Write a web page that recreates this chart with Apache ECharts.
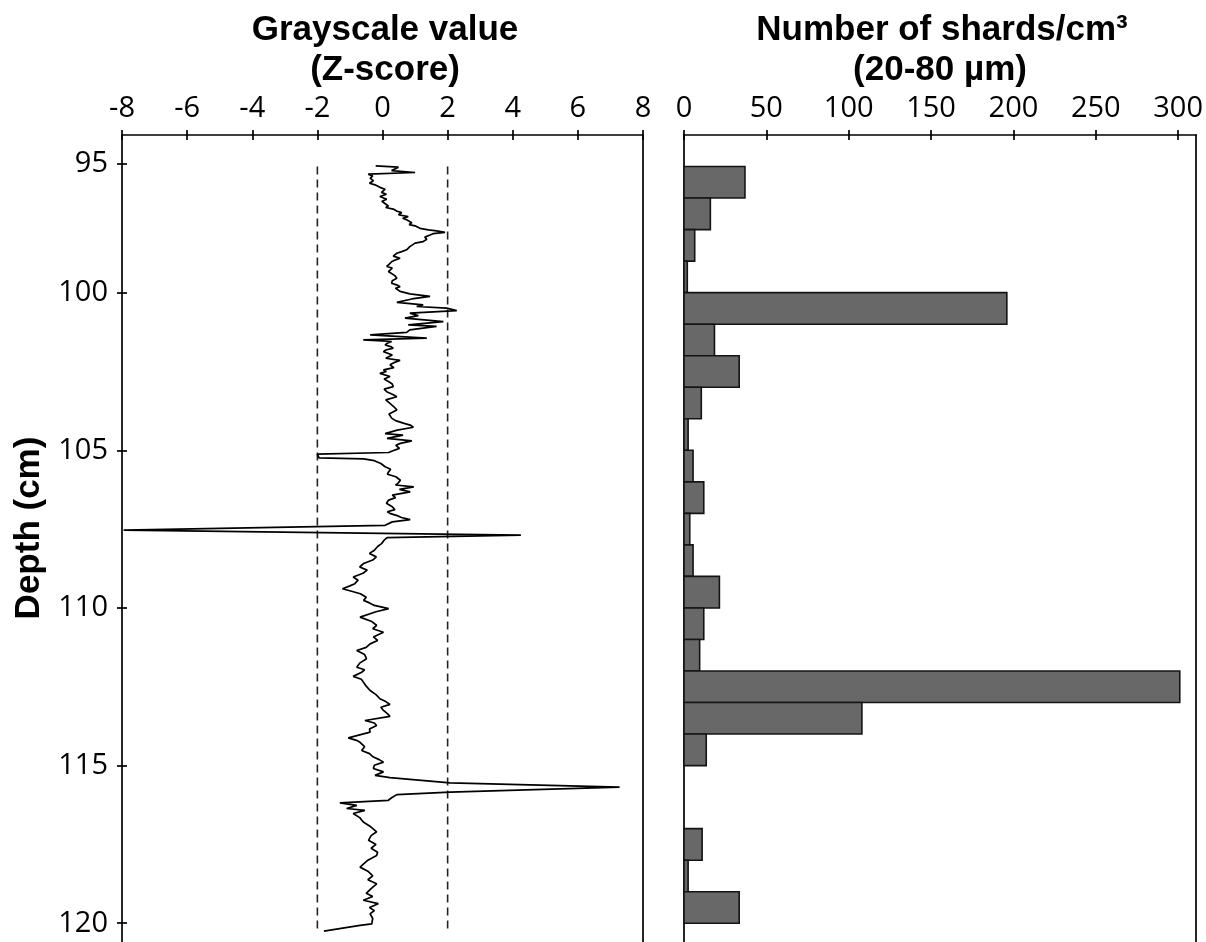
<!DOCTYPE html>
<html><head><meta charset="utf-8">
<script src="https://cdn.jsdelivr.net/npm/echarts@6/dist/echarts.min.js"></script>
<style>html,body{margin:0;padding:0;background:#fff;overflow:hidden}#c{width:1206px;height:980px}</style>
</head><body><div id="c"></div><script>
// Grayscale Z-score trace: [depth (cm), z-score]
const grayscaleTrace = [
[95.98,-0.21],[96.02,0.49],[96.13,0.28],[96.19,1.00],[96.24,-0.44],[96.30,-0.30],[96.37,-0.38],[96.45,-0.28],[96.53,-0.40],[96.58,-0.23],[96.66,-0.08],[96.72,0.08],[96.82,-0.03],[96.88,0.12],[96.95,-0.08],[97.04,0.13],[97.10,-0.02],[97.16,0.03],[97.25,0.18],[97.30,0.10],[97.35,0.33],[97.42,0.45],[97.46,0.59],[97.53,0.49],[97.59,0.79],[97.64,0.62],[97.69,0.74],[97.78,0.90],[97.84,0.82],[97.88,1.00],[97.96,1.15],[98.01,1.41],[98.04,1.66],[98.09,1.92],[98.13,1.55],[98.17,1.46],[98.24,1.30],[98.31,1.36],[98.38,1.25],[98.43,1.00],[98.48,1.05],[98.54,0.84],[98.64,0.74],[98.70,0.59],[98.75,0.44],[98.80,0.50],[98.84,0.33],[98.91,0.54],[98.96,0.40],[99.02,0.28],[99.10,0.20],[99.17,0.13],[99.22,0.30],[99.28,0.33],[99.33,0.18],[99.39,0.23],[99.46,0.38],[99.54,0.44],[99.62,0.30],[99.70,0.28],[99.76,0.45],[99.81,0.54],[99.86,0.40],[99.91,0.44],
[99.96,0.54],[100.04,0.84],[100.12,1.46],[100.20,0.90],[100.31,0.44],[100.39,1.25],[100.44,1.05],[100.49,1.97],[100.57,2.28],[100.65,0.84],[100.73,1.10],[100.81,0.69],[100.92,1.87],[101.02,0.79],[101.07,1.66],[101.18,0.84],[101.26,0.74],[101.34,-0.38],[101.44,1.36],[101.50,-0.59],[101.55,0.28],[101.60,0.15],[101.66,0.08],[101.71,0.25],[101.76,0.33],[101.82,0.10],[101.87,0.03],[101.98,0.30],[102.08,0.10],[102.15,0.54],[102.22,0.35],[102.29,0.23],[102.38,0.35],[102.45,0.03],[102.50,0.12],[102.56,-0.08],[102.66,0.23],[102.74,0.05],[102.82,0.18],[102.90,0.30],[102.98,0.33],[103.06,0.05],[103.14,0.13],[103.22,0.30],[103.30,0.44],[103.40,0.10],[103.51,0.23],[103.62,0.35],[103.72,0.44],[103.85,0.20],[103.98,0.28],[104.06,0.40],[104.14,0.64],[104.20,0.85],[104.27,0.95],[104.36,0.45],
[104.47,0.08],[104.52,0.63],[104.62,0.14],[104.70,0.90],[104.78,0.55],[104.84,0.41],[104.94,0.52],[105.02,0.30],[105.07,0.19],[105.12,-2.00],[105.24,-1.95],[105.27,-0.58],[105.33,-0.25],[105.42,-0.05],[105.52,0.08],[105.60,0.25],[105.68,0.19],[105.76,0.15],[105.84,0.41],[105.95,0.55],[106.05,0.47],[106.10,0.40],[106.16,0.96],[106.24,0.52],[106.32,0.85],[106.42,0.30],[106.50,0.40],[106.58,0.19],[106.68,0.12],[106.79,0.30],[106.88,0.38],[106.95,0.15],[107.01,0.25],[107.07,0.45],[107.13,0.58],[107.20,0.85],[107.27,0.30],[107.38,0.08],[107.53,-7.95],[107.69,4.25],[107.77,0.14],[107.85,0.05],[107.96,-0.03],[108.05,-0.15],[108.17,-0.25],[108.27,-0.40],[108.38,-0.19],[108.48,-0.30],[108.59,-0.58],[108.70,-0.70],[108.80,-0.47],[108.90,-0.60],[109.02,-0.90],[109.12,-0.75],[109.23,-0.85],[109.30,-1.00],[109.39,-1.23],[109.47,-0.95],[109.55,-0.68],[109.66,-0.50],[109.76,-0.58],[109.84,-0.40],[109.92,-0.25],[110.02,0.19],
[110.12,-0.20],[110.29,-0.69],[110.42,-0.35],[110.55,-0.18],[110.66,-0.30],[110.77,0.03],[110.92,-0.28],[111.03,-0.15],[111.14,-0.38],[111.25,-0.50],[111.35,-0.79],[111.48,-0.55],[111.61,-0.49],[111.75,-0.70],[111.88,-0.79],[111.96,-0.55],[112.04,-0.64],[112.17,-0.90],[112.26,-0.65],[112.35,-0.59],[112.48,-0.50],[112.62,-0.38],[112.75,-0.20],[112.88,-0.08],[112.97,0.10],[113.06,0.23],[113.15,-0.05],[113.25,0.03],[113.35,0.15],[113.44,0.23],[113.57,-0.54],[113.65,-0.25],[113.73,-0.18],[113.84,-0.40],[113.94,-0.38],[114.12,-1.05],[114.20,-0.80],[114.26,-0.69],[114.40,-0.55],[114.52,-0.64],[114.62,-0.40],[114.73,-0.28],[114.81,-0.10],[114.89,0.03],[114.99,-0.25],[115.09,-0.28],[115.20,0.03],[115.31,-0.23],[115.38,0.23],[115.49,1.46],[115.55,2.07],[115.68,7.28],[115.84,2.07],[115.92,0.44],[116.02,0.28],[116.10,0.18],[116.18,-1.31],[116.26,-0.79],[116.36,-1.10],[116.42,-0.54],[116.52,-0.90],[116.65,-0.70],[116.79,-0.59],[116.95,-0.35],[117.10,-0.18],[117.22,-0.35],[117.37,-0.43],[117.50,-0.20],[117.62,-0.35],[117.75,-0.15],[117.85,-0.18],[118.00,-0.45],[118.22,-0.69],[118.35,-0.45],[118.50,-0.30],[118.62,-0.45],[118.75,-0.18],[118.90,-0.35],[119.05,-0.50],[119.15,-0.30],[119.27,-0.59],[119.38,-0.13],[119.50,-0.40],[119.60,-0.25],[119.70,-0.38],[119.85,-0.30],[120.02,-0.33],[120.07,-0.69],[120.25,-1.80]
];
const zThresholds = [-2, 2];
const thresholdDepthRange = [96.0, 120.3];

// Shard counts per 1-cm interval
const shardFrom   = [96,97,98,99,100,101,102,103,104,105,106,107,108,109,110,111,112,113,114,115,116,117,118,119];
const shardTo     = [97,98,99,100,101,102,103,104,105,106,107,108,109,110,111,112,113,114,115,116,117,118,119,120];
const shardCounts = [37,16,6.5,2,196,18.5,33.5,10.5,2.5,5.5,12,3.5,5.5,21.5,12,9.5,301,108,13.5,null,null,11,2.5,33.5];

// Axis ticks
const depthTickValues = [95.92,100,105,110,115,120];
const depthTickLabels = ['95','100','105','110','115','120'];
const shardTickValues = [0,50,100,150,200,250,300];

const chart = echarts.init(document.getElementById('c'), null, {renderer:'canvas'});
const labelFont = {fontFamily:'"Open Sans", "Liberation Sans", sans-serif', fontSize:29, color:'#000'};
const titleFont = 'bold 35px "Liberation Sans", Arial, sans-serif';
const lineOn = {show:true, onZero:false, lineStyle:{color:'#000', width:1.7}};
const lineOff = {show:false, onZero:false};
function ticks(inside, custom){ const t = {show:true, inside:inside, length:5, lineStyle:{color:'#000', width:1.7}}; if (custom) t.customValues = custom; return t; }
const noSplit = {show:false};
const DMIN = 95, DMAX = 121.8;

const shardData = shardFrom.map((f,i)=>[f, shardTo[i], shardCounts[i]]).filter(r=>r[2]!=null);

function txt(x,y,text,rot){
  return {type:'text', x:x, y:y, rotation:rot||0, silent:true,
    style:{text:text, font:titleFont, fill:'#000', align:'center', verticalAlign:'middle', textAlign:'center', textVerticalAlign:'middle'}};
}

const option = {
  animation:false,
  backgroundColor:'#fff',
  grid:[{left:122, top:135, width:521, height:845},{left:684, top:135, width:514, height:845}],
  xAxis:[
    {gridIndex:0, type:'value', position:'top', min:-8, max:8, interval:2, axisLine:lineOn, axisTick:ticks(false), axisLabel:Object.assign({margin:12}, labelFont), splitLine:noSplit},
    {gridIndex:0, type:'value', position:'top', min:-8, max:8, interval:2, axisLine:lineOff, axisTick:ticks(true), axisLabel:{show:false}, splitLine:noSplit},
    {gridIndex:1, type:'value', position:'top', min:0, max:311, axisLine:lineOn, axisTick:ticks(false, shardTickValues), axisLabel:Object.assign({margin:12, customValues:shardTickValues}, labelFont), splitLine:noSplit},
    {gridIndex:1, type:'value', position:'top', min:0, max:311, axisLine:lineOff, axisTick:ticks(true, shardTickValues), axisLabel:{show:false}, splitLine:noSplit}
  ],
  yAxis:[
    {gridIndex:0, type:'value', inverse:true, min:DMIN, max:DMAX, position:'left', axisLine:lineOn, axisTick:ticks(false, depthTickValues),
      axisLabel:Object.assign({margin:14, customValues:depthTickValues, formatter:function(v){const i=depthTickValues.indexOf(v); return i>=0?depthTickLabels[i]:'';}}, labelFont), splitLine:noSplit},
    {gridIndex:0, type:'value', inverse:true, min:DMIN, max:DMAX, position:'left', axisLine:lineOff, axisTick:ticks(true, depthTickValues), axisLabel:{show:false}, splitLine:noSplit},
    {gridIndex:0, type:'value', inverse:true, min:DMIN, max:DMAX, position:'right', axisLine:lineOn, axisTick:{show:false}, axisLabel:{show:false}, splitLine:noSplit},
    {gridIndex:1, type:'value', inverse:true, min:DMIN, max:DMAX, position:'left', axisLine:lineOn, axisTick:{show:false}, axisLabel:{show:false}, splitLine:noSplit},
    {gridIndex:1, type:'value', inverse:true, min:DMIN, max:DMAX, position:'right', axisLine:lineOn, axisTick:{show:false}, axisLabel:{show:false}, splitLine:noSplit}
  ],
  graphic:[
    txt(385, 30, 'Grayscale value'),
    txt(385, 70, '(Z-score)'),
    txt(942, 30, 'Number of shards/cm³'),
    txt(940, 70, '(20-80 µm)'),
    txt(29, 528, 'Depth (cm)', Math.PI/2)
  ],
  series:[
    ...zThresholds.map(z=>({type:'line', xAxisIndex:0, yAxisIndex:0, data:[[z, thresholdDepthRange[0]],[z, thresholdDepthRange[1]]],
      symbol:'none', silent:true, lineStyle:{color:'#222', width:1.6, type:[8,5]}, z:2})),
    {type:'line', xAxisIndex:0, yAxisIndex:0, data:grayscaleTrace.map(p=>[p[1], p[0]]), symbol:'none', showSymbol:false,
      lineStyle:{color:'#000', width:1.7}, z:3},
    {type:'custom', xAxisIndex:2, yAxisIndex:3, data:shardData, encode:{x:2, y:[0,1]},
      renderItem:function(params, api){
        const p0 = api.coord([0, api.value(0)]);
        const p1 = api.coord([api.value(2), api.value(1)]);
        return {type:'rect', shape:{x:p0[0], y:p0[1], width:p1[0]-p0[0], height:p1[1]-p0[1]},
          style:{fill:'#686868', stroke:'#141414', lineWidth:1.6}};
      }}
  ]
};
chart.setOption(option);
</script></body></html>
